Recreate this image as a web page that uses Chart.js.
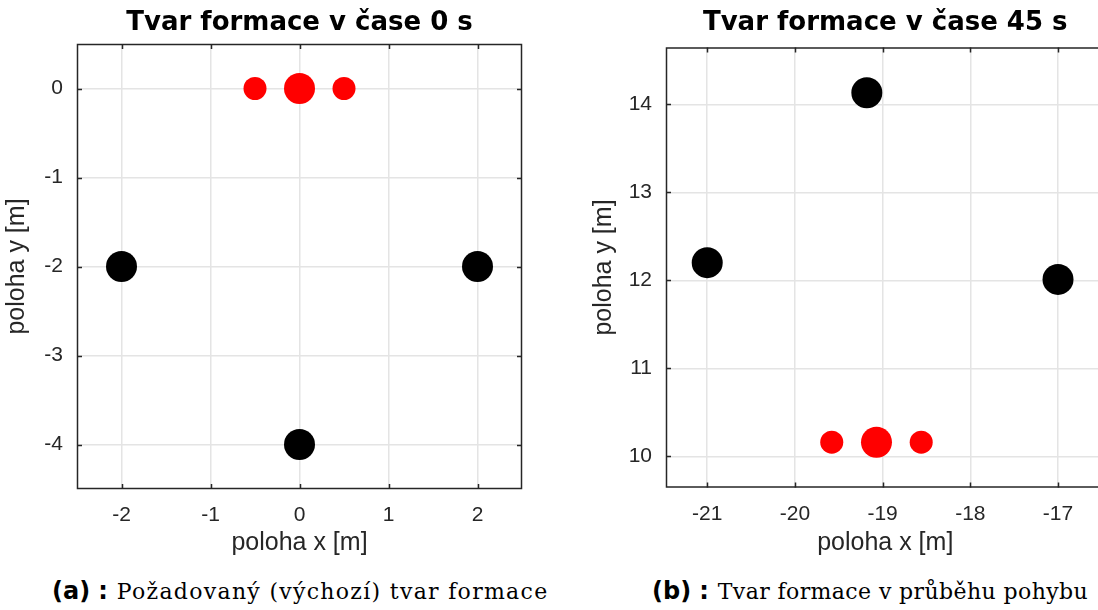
<!DOCTYPE html>
<html>
<head>
<meta charset="utf-8">
<script src="https://cdn.jsdelivr.net/npm/chart.js@4"></script>
<style>
  html, body { margin: 0; padding: 0; background: #fff; }
  #page { position: relative; width: 1098px; height: 610px; overflow: hidden; }
  #c1 { position: absolute; left: 0; top: 0; }
  #c2 { position: absolute; left: 560px; top: 0; }
  .cap { position: absolute; top: 577px; white-space: nowrap; color: #000; line-height: 28px; }
  .cap b { font-family: "DejaVu Sans", sans-serif; font-weight: 700; font-size: 24px; }
  .cap .colon { margin: 0 9px 0 8px; }
  .cap .t { font-family: "DejaVu Serif", serif; font-size: 22px; }
</style>
</head>
<body>
<div id="page">
  <canvas id="c1" width="540" height="560"></canvas>
  <canvas id="c2" width="560" height="560"></canvas>
  <div class="cap" style="left:52px"><b>(a)</b><b class="colon">:</b><span class="t" style="letter-spacing:1.3px">Požadovaný (výchozí) tvar formace</span></div>
  <div class="cap" style="left:652px"><b>(b)</b><b class="colon">:</b><span class="t" style="letter-spacing:0.4px">Tvar formace v průběhu pohybu</span></div>
</div>
<script>
// Formace v case 0 s
const startBlackX = [-2, 2, 0];
const startBlackY = [-2, -2, -4];
const startLeaderX = [0];
const startLeaderY = [0];
const startFollowX = [-0.5, 0.5];
const startFollowY = [0, 0];
const startXTicks = [-2, -1, 0, 1, 2];
const startYTicks = [-4, -3, -2, -1, 0];

// Formace v case 45 s
const movingBlackX = [-19.18, -21, -17];
const movingBlackY = [14.13, 12.2, 12.01];
const movingLeaderX = [-19.07];
const movingLeaderY = [10.16];
const movingFollowX = [-19.58, -18.56];
const movingFollowY = [10.16, 10.16];
const movingXTicks = [-21, -20, -19, -18, -17];
const movingYTicks = [10, 11, 12, 13, 14];

Chart.defaults.font.family = 'Liberation Sans';
Chart.defaults.color = '#262626';

function pts(xs, ys) {
    return xs.map((x, i) => ({ x: x, y: ys[i] }));
}

// MATLAB-like box with inward ticks
const boxPlugin = {
    id: 'box',
    afterDraw(chart) {
        const { ctx, chartArea: a, scales } = chart;
        const len = 5;
        ctx.save();
        ctx.strokeStyle = '#262626';
        ctx.lineWidth = 1.5;
        ctx.strokeRect(a.left + 0.5, a.top + 0.5, a.right - a.left - 1, a.bottom - a.top - 1);
        ctx.beginPath();
        scales.x.ticks.forEach(t => {
            const px = Math.round(scales.x.getPixelForValue(t.value)) + 0.5;
            ctx.moveTo(px, a.bottom); ctx.lineTo(px, a.bottom - len);
            ctx.moveTo(px, a.top); ctx.lineTo(px, a.top + len);
        });
        scales.y.ticks.forEach(t => {
            const py = Math.round(scales.y.getPixelForValue(t.value)) + 0.5;
            ctx.moveTo(a.left, py); ctx.lineTo(a.left + len, py);
            ctx.moveTo(a.right, py); ctx.lineTo(a.right - len, py);
        });
        ctx.stroke();
        ctx.restore();
    }
};

function makeChart(id, title, data, ranges, geo) {
    new Chart(document.getElementById(id), {
        type: 'scatter',
        data: {
            datasets: [
                { data: pts(data.blackX, data.blackY), backgroundColor: '#000', borderWidth: 0, pointRadius: 15.5 },
                { data: pts(data.leaderX, data.leaderY), backgroundColor: '#ff0000', borderWidth: 0, pointRadius: 15.5 },
                { data: pts(data.followX, data.followY), backgroundColor: '#ff0000', borderWidth: 0, pointRadius: 11.5 }
            ]
        },
        options: {
            responsive: false,
            animation: false,
            devicePixelRatio: 1,
            layout: { padding: { left: 0, right: geo.padRight, top: 0, bottom: 0 } },
            plugins: {
                legend: { display: false },
                tooltip: { enabled: false },
                title: {
                    display: true,
                    text: title,
                    fullSize: false,
                    color: '#000',
                    font: { family: 'DejaVu Sans', size: 26, weight: 'bold' },
                    padding: { top: 8, bottom: geo.titleBottom }
                }
            },
            scales: {
                x: {
                    type: 'linear',
                    min: ranges.xMin, max: ranges.xMax,
                    afterBuildTicks: s => { s.ticks = ranges.xTicks.map(v => ({ value: v })); },
                    afterFit: s => { s.height = geo.xHeight; },
                    border: { display: false },
                    grid: { color: '#e4e4e4', lineWidth: 1.5, drawTicks: false },
                    ticks: { padding: 14, font: { size: 21 } },
                    title: { display: true, text: 'poloha x [m]', font: { size: 25 }, padding: { top: 0, bottom: 2 } }
                },
                y: {
                    type: 'linear',
                    min: ranges.yMin, max: ranges.yMax,
                    afterBuildTicks: s => { s.ticks = ranges.yTicks.map(v => ({ value: v })); },
                    afterFit: s => { s.width = geo.yWidth; },
                    border: { display: false },
                    grid: { color: '#e4e4e4', lineWidth: 1.5, drawTicks: false },
                    ticks: { padding: 14, font: { size: 21 } },
                    title: { display: true, text: 'poloha y [m]', font: { size: 25 }, padding: { top: geo.yTitlePad, bottom: 0 } }
                }
            }
        },
        plugins: [boxPlugin]
    });
}

makeChart('c1', 'Tvar formace v čase 0 s',
    { blackX: startBlackX, blackY: startBlackY, leaderX: startLeaderX, leaderY: startLeaderY, followX: startFollowX, followY: startFollowY },
    { xMin: -2.5, xMax: 2.5, yMin: -4.5, yMax: 0.5, xTicks: startXTicks, yTicks: startYTicks },
    { padRight: 18, titleBottom: 4.8, xHeight: 71, yWidth: 77, yTitlePad: 2 });

makeChart('c2', 'Tvar formace v čase 45 s',
    { blackX: movingBlackX, blackY: movingBlackY, leaderX: movingLeaderX, leaderY: movingLeaderY, followX: movingFollowX, followY: movingFollowY },
    { xMin: -21.47, xMax: -16.47, yMin: 9.645, yMax: 14.645, xTicks: movingXTicks, yTicks: movingYTicks },
    { padRight: 10, titleBottom: 8.3, xHeight: 72.5, yWidth: 106, yTitlePad: 29 });
</script>
</body>
</html>
